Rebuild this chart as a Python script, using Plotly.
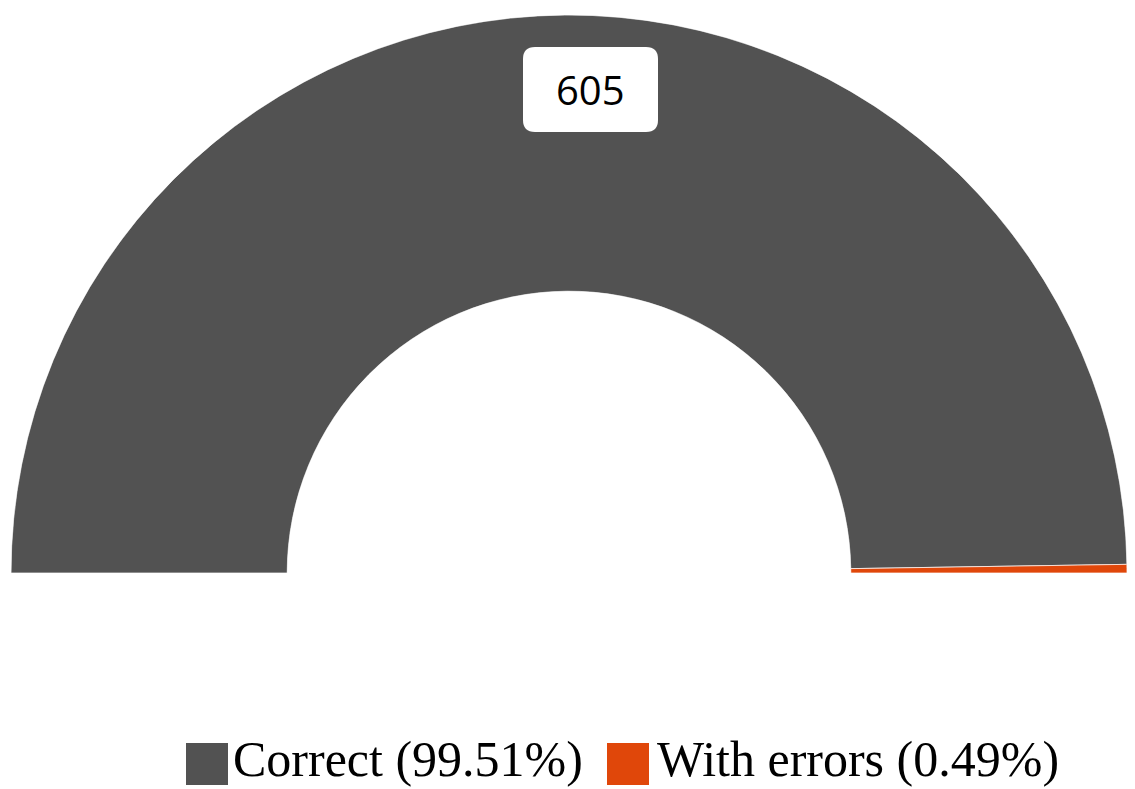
import plotly.graph_objects as go

# ---- data ----
categories = ["Correct", "With errors"]
counts = [605, 3]
colors = ["#525252", "#E0470A"]

total = sum(counts)
pcts = [c / total * 100 for c in counts]

# angular extents on a half circle (0..180 deg)
widths = [c / total * 180 for c in counts]
centers = []
acc = 0
for w in widths:
    centers.append(acc + w / 2)
    acc += w

# page body has an 8px margin
OFF = 8
W, H = 1135 - 2 * OFF, 789 - OFF


def px(x):
    return (x - OFF) / W


def py(y):
    return (H - (y - OFF)) / H


fig = go.Figure()
for cat, th, w, col in zip(categories, centers, widths, colors):
    fig.add_trace(go.Barpolar(
        r=[1], theta=[th], width=[w], base=[0], name=cat,
        marker=dict(color=col, line=dict(color="rgba(255,255,255,0.7)", width=1)),
        showlegend=False, hoverinfo="name",
    ))

fig.update_layout(
    width=W, height=H,
    margin=dict(l=0, r=0, t=0, b=0),
    paper_bgcolor="white",
    polar=dict(
        domain=dict(x=[px(11), 1.0], y=[py(573), py(15)]),
        sector=[0, 180],
        hole=0.505,
        bgcolor="white",
        bargap=0,
        radialaxis=dict(range=[0, 1], visible=False, showgrid=False, showline=False),
        angularaxis=dict(rotation=180, direction="clockwise", visible=False,
                         showgrid=False, showline=False, showticklabels=False, ticks=""),
    ),
)

# value label box for the big slice (rounded rectangle)
x0, x1, y0, y1, rr = 523, 658, 47, 132, 12
path = (f"M {px(x0+rr)},{py(y0)} L {px(x1-rr)},{py(y0)} "
        f"Q {px(x1)},{py(y0)} {px(x1)},{py(y0+rr)} L {px(x1)},{py(y1-rr)} "
        f"Q {px(x1)},{py(y1)} {px(x1-rr)},{py(y1)} L {px(x0+rr)},{py(y1)} "
        f"Q {px(x0)},{py(y1)} {px(x0)},{py(y1-rr)} L {px(x0)},{py(y0+rr)} "
        f"Q {px(x0)},{py(y0)} {px(x0+rr)},{py(y0)} Z")
fig.add_shape(type="path", xref="paper", yref="paper", path=path,
              fillcolor="white", line=dict(width=0))
fig.add_annotation(x=px((x0 + x1) / 2), y=py((y0 + y1) / 2), xref="paper", yref="paper",
                   text=str(counts[0]), showarrow=False,
                   font=dict(family="Open Sans", size=40, color="black"),
                   xanchor="center", yanchor="middle")

# legend (manual, large swatches)
legend_items = [(186, 231), (607, 655)]
for (sx, tx), cat, pct, col in zip(legend_items, categories, pcts, colors):
    fig.add_shape(type="rect", xref="paper", yref="paper",
                  x0=px(sx), x1=px(sx + 42), y0=py(785), y1=py(743),
                  fillcolor=col, line=dict(width=0))
    fig.add_annotation(x=px(tx), y=0, xref="paper", yref="paper",
                       text=f"{cat} ({pct:.2f}%)", showarrow=False,
                       font=dict(family="Liberation Serif", size=50, color="black"),
                       xanchor="left", yanchor="bottom")

fig.write_html("out.html")
